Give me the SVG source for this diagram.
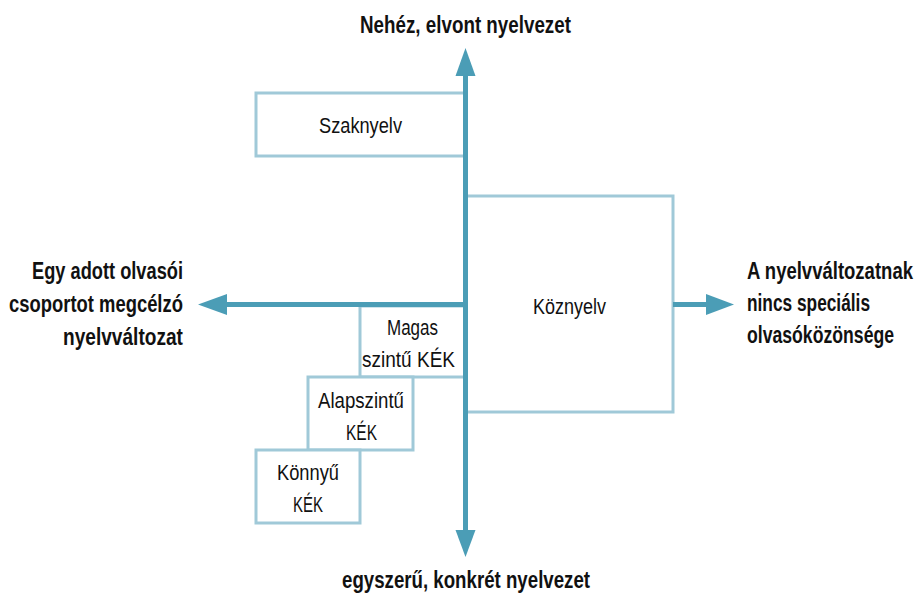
<svg xmlns="http://www.w3.org/2000/svg" width="920" height="593" viewBox="0 0 920 593">
<style>
.box{fill:#fff;stroke:#a0c9d8;stroke-width:3}
.ax{stroke:#4b9db6;stroke-width:5;fill:none}
.ah{fill:#4b9db6}
.lbl{font-family:"Liberation Sans",Arial,sans-serif;font-weight:bold;font-size:24px;fill:#111}
.t{font-family:"Liberation Sans",Arial,sans-serif;font-size:22px;fill:#111}
</style>
<rect width="920" height="593" fill="#fff"/>
<g id="szaknyelv"><rect class="box" x="256" y="93" width="209" height="63"/><text class="t" x="319" y="133" textLength="83" lengthAdjust="spacingAndGlyphs">Szaknyelv</text></g>
<g id="koznyelv"><rect class="box" x="466" y="196" width="207" height="216"/><text class="t" x="533" y="314" textLength="73" lengthAdjust="spacingAndGlyphs">Köznyelv</text></g>
<g id="magas"><rect class="box" x="360" y="306" width="105" height="71"/><text class="t" x="387" y="335" textLength="51" lengthAdjust="spacingAndGlyphs">Magas</text><text class="t" x="362" y="367" textLength="93" lengthAdjust="spacingAndGlyphs">szintű KÉK</text></g>
<g id="alap"><rect class="box" x="308" y="377" width="105" height="73"/><text class="t" x="318" y="408" textLength="86" lengthAdjust="spacingAndGlyphs">Alapszintű</text><text class="t" x="346" y="440" textLength="31" lengthAdjust="spacingAndGlyphs">KÉK</text></g>
<g id="konnyu"><rect class="box" x="256" y="450" width="104" height="73"/><text class="t" x="277" y="480" textLength="62" lengthAdjust="spacingAndGlyphs">Könnyű</text><text class="t" x="293" y="512" textLength="30" lengthAdjust="spacingAndGlyphs">KÉK</text></g>
<g id="connectors">
<line class="ax" x1="465.5" y1="74" x2="465.5" y2="532"/>
<polygon class="ah" points="465.5,48 455.5,76 475.5,76"/>
<polygon class="ah" points="465.5,557 455.5,530 475.5,530"/>
<line class="ax" x1="225" y1="304.5" x2="465.5" y2="304.5"/>
<polygon class="ah" points="198,304.5 227,294 227,315"/>
<line class="ax" x1="673" y1="304.5" x2="708" y2="304.5"/>
<polygon class="ah" points="734,304.5 706,294 706,315"/>
</g>
<g id="labels" class="lbl">
<text transform="translate(360,33) scale(0.78,1)" textLength="270.5" lengthAdjust="spacingAndGlyphs">Nehéz, elvont nyelvezet</text>
<text transform="translate(342,588) scale(0.78,1)" textLength="318" lengthAdjust="spacingAndGlyphs">egyszerű, konkrét nyelvezet</text>
<text transform="translate(32,279) scale(0.78,1)" textLength="193.6" lengthAdjust="spacingAndGlyphs">Egy adott olvasói</text>
<text transform="translate(9,312) scale(0.78,1)" textLength="223" lengthAdjust="spacingAndGlyphs">csoportot megcélzó</text>
<text transform="translate(63,345) scale(0.78,1)" textLength="153.8" lengthAdjust="spacingAndGlyphs">nyelvváltozat</text>
<text transform="translate(747,279) scale(0.78,1)" textLength="212.8" lengthAdjust="spacingAndGlyphs">A nyelvváltozatnak</text>
<text transform="translate(747,311) scale(0.78,1)" textLength="157.7" lengthAdjust="spacingAndGlyphs">nincs speciális</text>
<text transform="translate(747,343) scale(0.78,1)" textLength="188.5" lengthAdjust="spacingAndGlyphs">olvasóközönsége</text>
</g>
</svg>
